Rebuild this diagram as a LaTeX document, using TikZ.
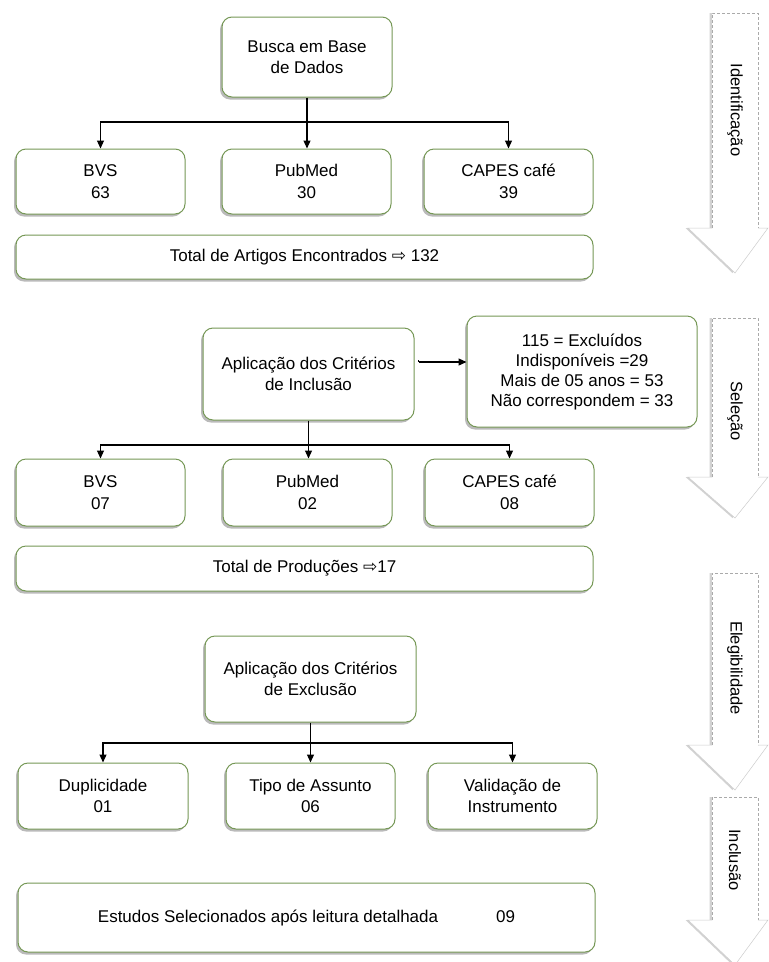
\documentclass[tikz,border=0pt]{standalone}
\usepackage{fontspec}
\setmainfont{Liberation Sans}
\newfontfamily\symfont{DejaVu Sans}
\usetikzlibrary{shadows,arrows.meta}
\definecolor{boxgreen}{RGB}{118,152,86}
\definecolor{stagegray}{RGB}{170,170,170}
\newcommand{\rarr}{{\symfont\fontsize{17}{17}\selectfont ⇨}}
\newcommand{\stagearrow}[3]{%
  \fill[white, drop shadow={shadow xshift=-2.5pt, shadow yshift=0pt, opacity=0.35, fill=black!50}]
    (712,#1) -- (758,#1) -- (758,#2) -- (768,#2) -- (735,#3) -- (688,#2) -- (712,#2) -- cycle;
  \draw[stagegray, dashed, dash pattern=on 3pt off 2pt, line width=0.6pt]
    (712,#2) -- (712,#1) -- (758,#1) -- (758,#2);
  \draw[stagegray!60, line width=0.5pt]
    (758,#2) -- (768,#2) -- (735,#3) -- (688,#2) -- (712,#2);
}
\begin{document}
\begin{tikzpicture}[x=1pt,y=-1pt,
  fbox/.style={draw=boxgreen, line width=1pt, fill=white, rounded corners=10pt,
    align=center, inner sep=0pt, font=\fontsize{17}{21.5}\selectfont,
    drop shadow={shadow xshift=-2pt, shadow yshift=-2.5pt, opacity=0.45, fill=black!60}},
  conn/.style={line width=1.2pt, black},
  arr/.style={conn, -{Triangle[length=8pt,width=7pt]}},
  stagelabel/.style={rotate=-90, font=\fontsize{16.5}{16.5}\selectfont, inner sep=0pt}
]
\fill[white] (0,0) rectangle (769,962);
\useasboundingbox (0,0) rectangle (769,962);

% stage arrows
\stagearrow{13}{228}{273}
\node[stagelabel] (lab1) at (735,110) {Identificação};
\stagearrow{318}{477}{518}
\node[stagelabel] (lab2) at (735,411) {Seleção};
\stagearrow{573}{745}{790}
\node[stagelabel] (lab3) at (735,668) {Elegibilidade};
\stagearrow{797}{920}{965}
\node[stagelabel] (lab4) at (735,860) {Inclusão};

% block 1
\node[fbox, minimum width=170pt, minimum height=80pt] (busca) at (307,57) {Busca em Base\\de Dados};
\node[fbox, minimum width=169pt, minimum height=65pt] (bvs1) at (100.5,181.5) {BVS\\63};
\node[fbox, minimum width=169pt, minimum height=65pt] (pub1) at (306.5,181.5) {PubMed\\30};
\node[fbox, minimum width=169pt, minimum height=65pt] (cap1) at (508.5,181.5) {CAPES café\\39};
\node[fbox, minimum width=577pt, minimum height=44pt] (tot1) at (304.5,257) {Total de Artigos Encontrados \rarr{} 132};

\coordinate (j1) at (307,122);
\draw[conn] (busca.south) -- (j1);
\draw[arr] (j1) -| (bvs1.north);
\draw[arr] (j1) -- (j1 |- pub1.north);
\draw[arr] (j1) -| (cap1.north);

% block 2
\node[fbox, minimum width=211pt, minimum height=92pt] (incl) at (308.5,374) {Aplicação dos Critérios\\de Inclusão};
\node[fbox, minimum width=230pt, minimum height=111pt, font=\fontsize{17}{20}\selectfont] (excl) at (582,371.5) {115 = Excluídos\\Indisponíveis =29\\Mais de 05 anos = 53\\Não correspondem = 33};
\node[fbox, minimum width=169pt, minimum height=67pt] (bvs2) at (100.5,492.5) {BVS\\07};
\node[fbox, minimum width=169pt, minimum height=67pt] (pub2) at (307.5,492.5) {PubMed\\02};
\node[fbox, minimum width=169pt, minimum height=67pt] (cap2) at (509.5,492.5) {CAPES café\\08};
\node[fbox, minimum width=577pt, minimum height=45pt] (tot2) at (304.5,568.5) {Total de Produções \rarr17};

\coordinate (s2) at ([shift={(4pt,12pt)}]incl.east);
\draw[conn] (s2) ++(0,-2) -- (s2);
\draw[arr] (s2) -- (s2 -| excl.west);
\coordinate (j2) at (308.5,445);
\draw[conn] (incl.south) -- (j2);
\draw[arr] (j2) -| (bvs2.north);
\draw[arr] (j2) -- (j2 |- pub2.north);
\draw[arr] (j2) -| (cap2.north);

% block 3
\node[fbox, minimum width=211pt, minimum height=86pt] (exclu) at (310.5,679) {Aplicação dos Critérios\\de Exclusão};
\node[fbox, minimum width=170pt, minimum height=66pt] (dup) at (103,796) {Duplicidade\\01};
\node[fbox, minimum width=169pt, minimum height=66pt] (tipo) at (310.5,796) {Tipo de Assunto\\06};
\node[fbox, minimum width=169pt, minimum height=66pt] (val) at (512.5,796) {Validação de\\Instrumento};

\coordinate (j3) at (310.5,743);
\draw[conn] (exclu.south) -- (j3);
\draw[arr] (j3) -| (dup.north);
\draw[arr] (j3) -- (j3 |- tipo.north);
\draw[arr] (j3) -| (val.north);

% block 4
\node[fbox, minimum width=577pt, minimum height=69pt] (est) at (306.5,917.5) {Estudos Selecionados após leitura detalhada\hspace{58pt}09};
\end{tikzpicture}
\end{document}
